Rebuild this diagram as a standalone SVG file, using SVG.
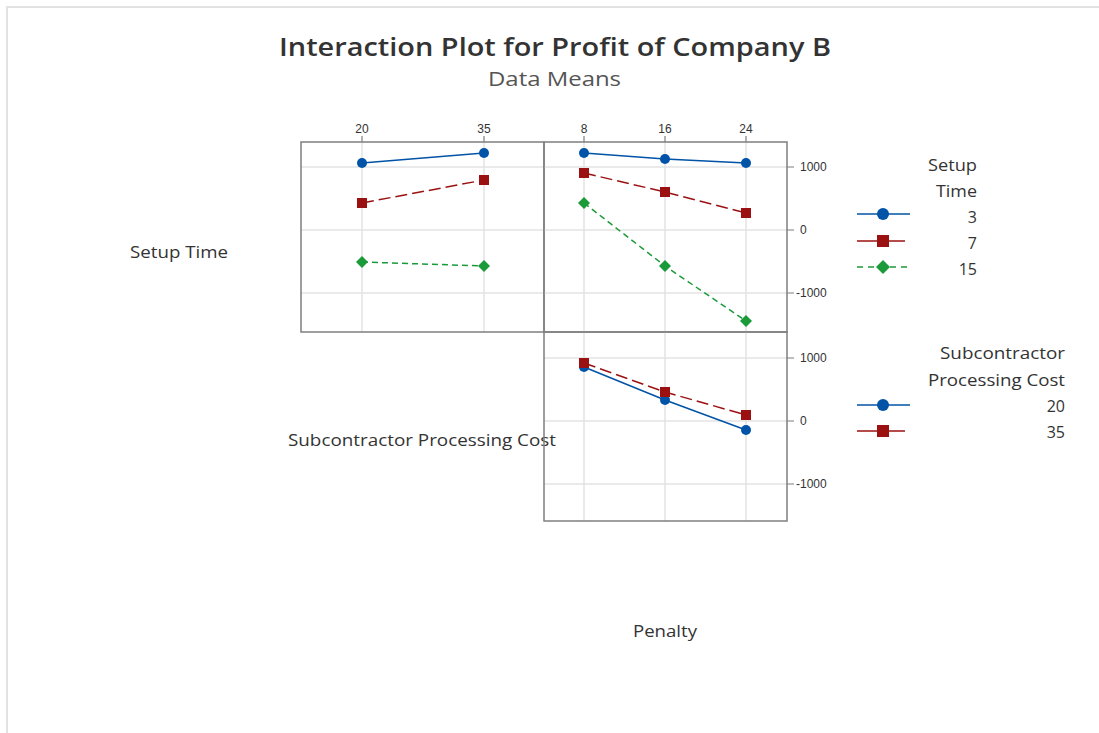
<svg xmlns="http://www.w3.org/2000/svg" width="1099" height="733" viewBox="0 0 1099 733">
<style>
.t{font-family:"Open Sans","Noto Sans","Liberation Sans",sans-serif;fill:#333}
.tick{font-family:"Liberation Sans",Arial,sans-serif;font-size:12px;fill:#333}
.grid{stroke:#e3e3e3;stroke-width:1.5;fill:none}
.box{stroke:#7f7f7f;stroke-width:1.5;fill:none}
.tk{stroke:#7f7f7f;stroke-width:1.2}
.blue{stroke:#0053a6;stroke-width:1.5;fill:none}
.red{stroke:#9b1111;stroke-width:1.5;fill:none;stroke-dasharray:12 5}
.green{stroke:#1b9a3a;stroke-width:1.5;fill:none;stroke-dasharray:6 4}
.bm{fill:#0053a6}
.rm{fill:#9b1111}
.gm{fill:#1b9a3a}
</style>
<defs>
<circle id="mc" r="5" class="bm"/>
<rect id="ms" x="-5" y="-5" width="10" height="10" class="rm"/>
<polygon id="md" points="0,-6 6,0 0,6 -6,0" class="gm"/>
</defs>
<rect width="1099" height="733" fill="#fff"/>
<path d="M7,733 V7 H1099" stroke="#e2e2e2" stroke-width="2" fill="none"/>

<g id="title">
<text class="t" x="279" y="56" font-size="26" font-weight="600" textLength="552" lengthAdjust="spacingAndGlyphs">Interaction Plot for Profit of Company B</text>
<text class="t" x="488" y="86" font-size="20" textLength="133" lengthAdjust="spacingAndGlyphs" style="fill:#555">Data Means</text>
</g>

<g id="labels">
<text class="t" x="130" y="258" font-size="16" textLength="98" lengthAdjust="spacingAndGlyphs">Setup Time</text>
<text class="t" x="288" y="446" font-size="16" textLength="268" lengthAdjust="spacingAndGlyphs">Subcontractor Processing Cost</text>
<text class="t" x="633" y="637" font-size="16" textLength="64" lengthAdjust="spacingAndGlyphs">Penalty</text>
</g>

<g id="panel-setup-sub">
<path class="grid" d="M362,142V332M484,142V332M301,167H544M301,230H544M301,293H544"/>
<rect class="box" x="301" y="142" width="243" height="190"/>
<path class="tk" d="M362,136V142M484,136V142"/>
<text class="tick" x="362" y="133" text-anchor="middle">20</text>
<text class="tick" x="484" y="133" text-anchor="middle">35</text>
</g>

<g id="panel-setup-penalty">
<path class="grid" d="M584,142V332M665,142V332M746,142V332M544,167H787M544,230H787M544,293H787"/>
<rect class="box" x="544" y="142" width="243" height="190"/>
<path class="tk" d="M584,136V142M665,136V142M746,136V142M787,167H794M787,230H794M787,293H794"/>
<text class="tick" x="584" y="133" text-anchor="middle">8</text>
<text class="tick" x="665" y="133" text-anchor="middle">16</text>
<text class="tick" x="746" y="133" text-anchor="middle">24</text>
<text class="tick" x="800" y="171">1000</text>
<text class="tick" x="800" y="234">0</text>
<text class="tick" x="796" y="297">-1000</text>
</g>

<g id="panel-sub-penalty">
<path class="grid" d="M584,332V521M665,332V521M746,332V521M544,358H787M544,421H787M544,484H787"/>
<rect class="box" x="544" y="332" width="243" height="189"/>
<path class="tk" d="M787,358H794M787,421H794M787,484H794"/>
<text class="tick" x="800" y="362">1000</text>
<text class="tick" x="800" y="425">0</text>
<text class="tick" x="796" y="488">-1000</text>
</g>

<g id="connectors">
<polyline class="blue" points="362,163 484,153"/>
<polyline class="red" points="362,203 484,180"/>
<polyline class="green" points="362,262 484,266"/>
<polyline class="blue" points="584,153 665,159 746,163"/>
<polyline class="red" points="584,173 665,192 746,213"/>
<polyline class="green" points="584,203 665,266 746,321"/>
<polyline class="blue" points="584,367 665,400 746,430"/>
<polyline class="red" points="584,363 665,392 746,415"/>
</g>

<g id="markers">
<use href="#mc" x="362" y="163"/><use href="#mc" x="484" y="153"/>
<use href="#ms" x="362" y="203"/><use href="#ms" x="484" y="180"/>
<use href="#md" x="362" y="262"/><use href="#md" x="484" y="266"/>
<use href="#mc" x="584" y="153"/><use href="#mc" x="665" y="159"/><use href="#mc" x="746" y="163"/>
<use href="#ms" x="584" y="173"/><use href="#ms" x="665" y="192"/><use href="#ms" x="746" y="213"/>
<use href="#md" x="584" y="203"/><use href="#md" x="665" y="266"/><use href="#md" x="746" y="321"/>
<use href="#mc" x="584" y="367"/><use href="#mc" x="665" y="400"/><use href="#mc" x="746" y="430"/>
<use href="#ms" x="584" y="363"/><use href="#ms" x="665" y="392"/><use href="#ms" x="746" y="415"/>
</g>

<g id="legend-setup">
<text class="t" x="928" y="171" font-size="16" textLength="49" lengthAdjust="spacingAndGlyphs">Setup</text>
<text class="t" x="936" y="197" font-size="16" textLength="41" lengthAdjust="spacingAndGlyphs">Time</text>
<line x1="857" y1="214" x2="910" y2="214" stroke="#0053a6" stroke-width="1.5"/>
<circle cx="883" cy="214" r="6" class="bm"/>
<line x1="857" y1="241" x2="905" y2="241" stroke="#9b1111" stroke-width="1.5"/>
<rect x="877" y="235" width="12" height="12" class="rm"/>
<line x1="857" y1="267" x2="910" y2="267" stroke="#1b9a3a" stroke-width="1.5" stroke-dasharray="6 5"/>
<polygon points="883,260 890,267 883,274 876,267" class="gm"/>
<text class="t" x="977" y="223" font-size="16" text-anchor="end">3</text>
<text class="t" x="977" y="249" font-size="16" text-anchor="end">7</text>
<text class="t" x="977" y="275" font-size="16" text-anchor="end">15</text>
</g>

<g id="legend-sub">
<text class="t" x="940" y="359" font-size="16" textLength="125" lengthAdjust="spacingAndGlyphs">Subcontractor</text>
<text class="t" x="928" y="386" font-size="16" textLength="137" lengthAdjust="spacingAndGlyphs">Processing Cost</text>
<line x1="857" y1="405" x2="910" y2="405" stroke="#0053a6" stroke-width="1.5"/>
<circle cx="883" cy="405" r="6" class="bm"/>
<line x1="857" y1="431" x2="905" y2="431" stroke="#9b1111" stroke-width="1.5"/>
<rect x="877" y="425" width="12" height="12" class="rm"/>
<text class="t" x="1065" y="412" font-size="16" text-anchor="end">20</text>
<text class="t" x="1065" y="438" font-size="16" text-anchor="end">35</text>
</g>
</svg>
